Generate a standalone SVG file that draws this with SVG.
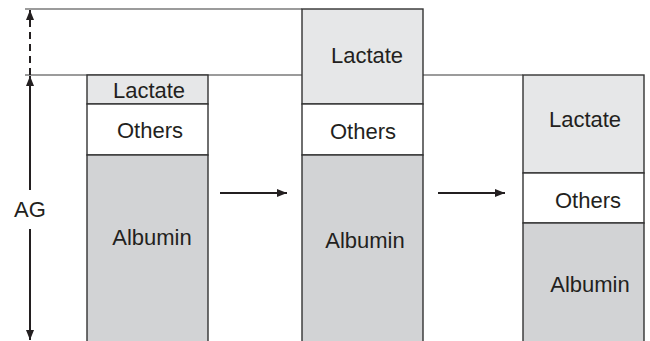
<svg xmlns="http://www.w3.org/2000/svg" width="650" height="341" viewBox="0 0 650 341">
<defs>
<style>
.box{stroke:#333333;stroke-width:1.4}
.lac{fill:#e6e7e8}
.oth{fill:#ffffff}
.alb{fill:#d2d3d5}
.ref{stroke:#7a7a7a;stroke-width:1.5;fill:none}
.t{font-family:"Liberation Sans",Arial,sans-serif;font-size:22px;fill:#231f20;text-anchor:middle}
.con{stroke:#231f20;stroke-width:2;fill:none}
</style>
<marker id="ah" viewBox="0 0 10 8" refX="10" refY="4" markerWidth="10" markerHeight="8" markerUnits="userSpaceOnUse" orient="auto">
<path d="M0,0 L10,4 L0,8 Z" fill="#231f20"/>
</marker>
</defs>
<rect width="650" height="341" fill="#ffffff"/>
<g id="reference-lines">
<line class="ref" x1="25" y1="9" x2="302" y2="9"/>
<line class="ref" x1="25" y1="75" x2="302" y2="75"/>
<line class="ref" x1="423" y1="75" x2="523" y2="75"/>
</g>
<g id="column1">
<rect class="box lac" x="87" y="75" width="121" height="29"/>
<rect class="box oth" x="87" y="104" width="121" height="51"/>
<rect class="box alb" x="87" y="155" width="121" height="190"/>
<text class="t" x="149" y="98">Lactate</text>
<text class="t" x="150" y="138">Others</text>
<text class="t" x="152" y="245">Albumin</text>
</g>
<g id="column2">
<rect class="box lac" x="302" y="9" width="121" height="95"/>
<rect class="box oth" x="302" y="104" width="121" height="51"/>
<rect class="box alb" x="302" y="155" width="121" height="190"/>
<text class="t" x="367" y="63">Lactate</text>
<text class="t" x="363" y="139">Others</text>
<text class="t" x="365" y="248">Albumin</text>
</g>
<g id="column3">
<rect class="box lac" x="523" y="75" width="121" height="98"/>
<rect class="box oth" x="523" y="173" width="121" height="50"/>
<rect class="box alb" x="523" y="223" width="121" height="122"/>
<text class="t" x="585" y="127">Lactate</text>
<text class="t" x="588" y="208">Others</text>
<text class="t" x="590" y="292">Albumin</text>
</g>
<g id="ag-label">
<text class="t" x="30" y="217">AG</text>
</g>
<g id="connectors">
<line class="con" x1="30" y1="75" x2="30" y2="10" stroke-dasharray="7,5" marker-end="url(#ah)"/>
<line class="con" x1="30" y1="190" x2="30" y2="76" marker-end="url(#ah)"/>
<line class="con" x1="30" y1="229" x2="30" y2="340" marker-end="url(#ah)"/>
<line class="con" x1="220" y1="193" x2="287" y2="193" marker-end="url(#ah)"/>
<line class="con" x1="438" y1="193" x2="505" y2="193" marker-end="url(#ah)"/>
</g>
</svg>
